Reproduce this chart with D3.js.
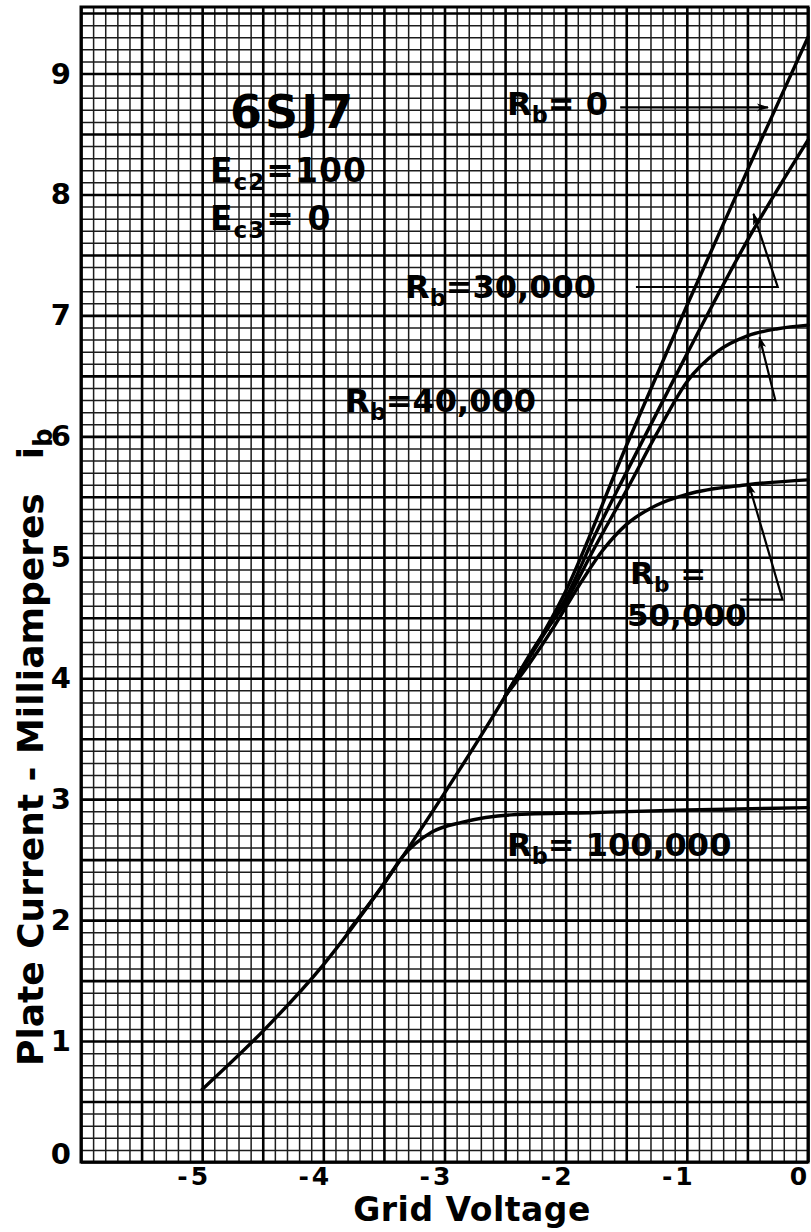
<!DOCTYPE html>
<html><head><meta charset="utf-8">
<script src="https://cdn.jsdelivr.net/npm/d3@7"></script>
<style>
body{margin:0;background:#fff}
svg{display:block}
text{font-family:"DejaVu Sans",sans-serif;font-weight:bold;fill:#000}
</style>
</head><body>
<svg id="chart" width="811" height="1232"></svg>
<script>
// ---------------- data ----------------
const xTickValues = [-5, -4, -3, -2, -1, 0];
const xTickLabels = ["-5", "-4", "-3", "-2", "-1", "0"];
const yTickValues = [0, 1, 2, 3, 4, 5, 6, 7, 8, 9];
const yTickLabels = ["0", "1", "2", "3", "4", "5", "6", "7", "8", "9"];

const seriesNames = ["Rb = 0", "Rb = 30,000", "Rb = 40,000", "Rb = 50,000", "Rb = 100,000"];

const rb0Volts   = [-5, -4.5, -4, -3.5, -3, -2.5, -2, -1.5, -1, -0.5, 0];
const rb0mA      = [0.60, 1.08, 1.63, 2.30, 3.05, 3.85, 4.72, 5.92, 7.08, 8.20, 9.30];

const rb30Volts  = [-2.5, -2.2, -2, -1.75, -1.5, -1, -0.5, 0];
const rb30mA     = [3.85, 4.33, 4.66, 5.20, 5.70, 6.68, 7.62, 8.45];

const rb40Volts  = [-2.5, -2.25, -2, -1.75, -1.5, -1.25, -1, -0.75, -0.5, -0.25, 0];
const rb40mA     = [3.85, 4.27, 4.63, 5.10, 5.55, 6.02, 6.45, 6.70, 6.83, 6.89, 6.92];

const rb50Volts  = [-2.5, -2.3, -2.1, -1.9, -1.7, -1.5, -1.25, -1, -0.5, 0];
const rb50mA     = [3.85, 4.12, 4.42, 4.75, 5.05, 5.27, 5.43, 5.52, 5.60, 5.64];

const rb100Volts = [-3.8, -3.5, -3.35, -3.1, -2.85, -2.45, -1.75, -1, 0];
const rb100mA    = [1.90, 2.30, 2.52, 2.73, 2.81, 2.87, 2.89, 2.91, 2.93];

// ---------------- layout ----------------
const svg = d3.select("#chart");
const L = 81, R = 808, T = 7, B = 1162;
const x = d3.scaleLinear().domain([-6, 0]).range([L, R]);
const y = d3.scaleLinear().domain([0, 9.55]).range([B, T]);

// graph paper grid via axes
const minorX = d3.range(-60, 1).map(d => d / 10).filter(d => Math.round(d * 10) % 5 !== 0);
const majorX = d3.range(-12, 1).map(d => d / 2);
const minorY = d3.range(0, 96).map(d => d / 10).filter(d => Math.round(d * 10) % 5 !== 0);
const majorY = d3.range(0, 20).map(d => d / 2);

function gridLayer(axis, cls, w, col) {
  const g = svg.append("g").attr("class", cls).call(axis);
  g.select(".domain").remove();
  g.selectAll("line").attr("stroke", col).attr("stroke-width", w);
  g.selectAll("text").remove();
  return g;
}
gridLayer(d3.axisBottom(x).tickValues(minorX).tickSize(-(B - T)).tickFormat(""), "gx", 1.5, "#1c1c1c")
  .attr("transform", `translate(0,${B})`);
gridLayer(d3.axisLeft(y).tickValues(minorY).tickSize(-(R - L)).tickFormat(""), "gy", 1.5, "#1c1c1c")
  .attr("transform", `translate(${L},0)`);
gridLayer(d3.axisBottom(x).tickValues(majorX).tickSize(-(B - T)).tickFormat(""), "gX", 2.6, "#000")
  .attr("transform", `translate(0,${B})`);
gridLayer(d3.axisLeft(y).tickValues(majorY).tickSize(-(R - L)).tickFormat(""), "gY", 2.6, "#000")
  .attr("transform", `translate(${L},0)`);

svg.append("rect").attr("x", L).attr("y", T).attr("width", R - L).attr("height", B - T)
  .attr("fill", "none").attr("stroke", "#000").attr("stroke-width", 3);

// ---------------- curves ----------------
const line = d3.line().x(d => x(d[0])).y(d => y(d[1])).curve(d3.curveMonotoneX);
const series = [
  [rb0Volts, rb0mA], [rb30Volts, rb30mA], [rb40Volts, rb40mA], [rb50Volts, rb50mA], [rb100Volts, rb100mA]
];
svg.append("g").selectAll("path").data(series).join("path")
  .attr("d", s => line(d3.zip(s[0], s[1])))
  .attr("fill", "none").attr("stroke", "#000").attr("stroke-width", 3.4)
  .attr("stroke-linecap", "round");

// ---------------- tick labels ----------------
svg.append("g").selectAll("text").data(xTickValues).join("text")
  .attr("x", d => x(d) - 8).attr("y", 1185)
  .attr("text-anchor", "middle").attr("font-size", 25).attr("letter-spacing", 3)
  .text((d, i) => xTickLabels[i]);

svg.append("g").selectAll("text").data(yTickValues).join("text")
  .attr("x", 71).attr("y", d => Math.min(y(d) + 10, 1164))
  .attr("text-anchor", "end").attr("font-size", 29)
  .text((d, i) => yTickLabels[i]);

// ---------------- axis titles ----------------
svg.append("text").attr("x", 472).attr("y", 1221).attr("text-anchor", "middle")
  .attr("font-size", 33).attr("letter-spacing", 0.5).text("Grid Voltage");

const yt = svg.append("text").attr("transform", "translate(43,1066) rotate(-90)")
  .attr("font-size", 36);
yt.append("tspan").text("Plate Current - Milliamperes");
yt.append("tspan").attr("dx", 34).text("i");
yt.append("tspan").attr("font-size", 26).attr("dy", 9).text("b");

// ---------------- annotations ----------------
function rich(px, py, parts, size) {
  const t = svg.append("text").attr("x", x(px)).attr("y", y(py)).attr("font-size", size);
  let shift = 0;
  parts.forEach(p => {
    const s = t.append("tspan").text(p[0]);
    const want = p[1] ? 8 : 0;
    if (want !== shift) { s.attr("dy", want - shift); shift = want; }
    if (p[1]) s.attr("font-size", size * 0.7);
    if (p[2]) s.attr("dx", p[2]);
  });
  return t;
}
rich(-4.77, 8.55, [["6SJ7"]], 46).attr("letter-spacing", 3);
rich(-4.935, 8.10, [["E"], ["c2", true], ["=100", false, 1]], 33).attr("letter-spacing", 1);
rich(-4.935, 7.71, [["E"], ["c3", true], ["= 0", false, 1]], 33).attr("letter-spacing", 1);
rich(-2.484, 8.657, [["R"], ["b", true], ["= 0"]], 32);
rich(-3.326, 7.144, [["R"], ["b", true], ["=30,000"]], 32);
rich(-3.821, 6.201, [["R"], ["b", true], ["=40,000"]], 32);
rich(-1.469, 4.78, [["R"], ["b", true], [" ="]], 31);
rich(-1.494, 4.43, [["50,000"]], 31);
rich(-2.484, 2.530, [["R"], ["b", true], ["= 100,000"]], 32);

// arrows
const defs = svg.append("defs");
defs.append("marker").attr("id", "ah").attr("viewBox", "0 0 12 10")
  .attr("refX", 11).attr("refY", 5).attr("markerWidth", 12).attr("markerHeight", 10)
  .attr("markerUnits", "userSpaceOnUse").attr("orient", "auto")
  .append("path").attr("d", "M0,1 L12,5 L0,9 L3,5 Z").attr("fill", "#000");

const arrows = [
  [[-1.55, 8.72], [-0.33, 8.72]],
  [[-1.42, 7.235], [-0.25, 7.235], [-0.45, 7.84]],
  [[-1.98, 6.30], [-0.27, 6.30], [-0.40, 6.82]],
  [[-0.56, 4.65], [-0.21, 4.65], [-0.49, 5.61]]
];
const aline = d3.line().x(d => x(d[0])).y(d => y(d[1]));
svg.append("g").selectAll("path").data(arrows).join("path")
  .attr("d", aline).attr("fill", "none").attr("stroke", "#000").attr("stroke-width", 2.2)
  .attr("marker-end", "url(#ah)");
</script>
</body></html>
